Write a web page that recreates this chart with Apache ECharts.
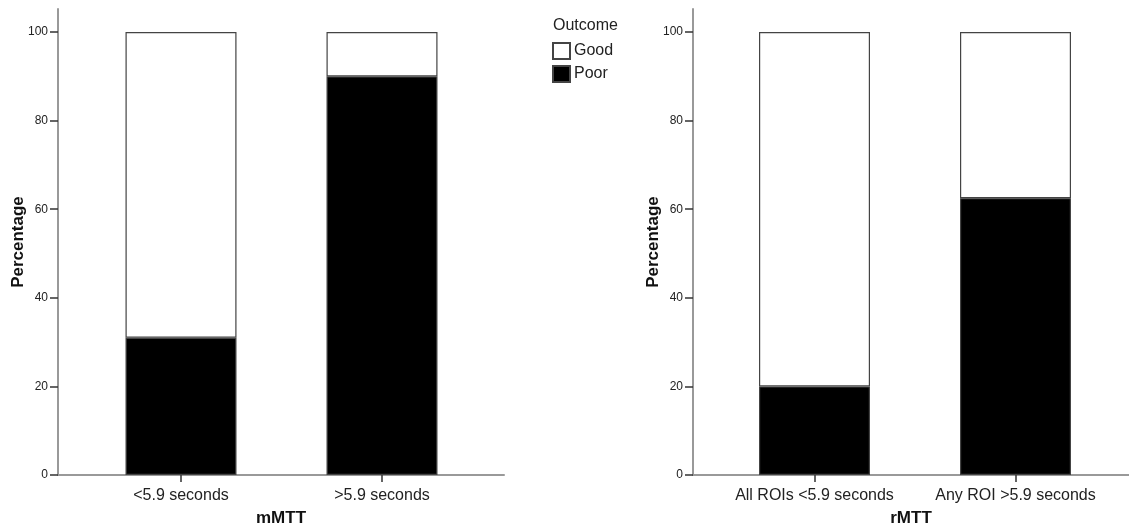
<!DOCTYPE html>
<html>
<head>
<meta charset="utf-8">
<script src="https://cdn.jsdelivr.net/npm/echarts@6/dist/echarts.min.js"></script>
<style>
  html, body { margin: 0; padding: 0; background: #fff; }
  #chart { width: 1129px; height: 526px; }
</style>
</head>
<body>
<div id="chart"></div>
<script>
// Outcome percentages by MTT group
const mCategories = ['<5.9 seconds', '>5.9 seconds'];
const mGood = [69, 10];
const mPoor = [31, 90];

const rCategories = ['All ROIs <5.9 seconds', 'Any ROI >5.9 seconds'];
const rGood = [80, 37.5];
const rPoor = [20, 62.5];

const yTicks = [0, 20, 40, 60, 80, 100];
const seriesNames = ['Poor', 'Good'];
const xTitles = ['mMTT', 'rMTT'];
const yTitle = 'Percentage';

const FONT = 'Liberation Sans, Arial, sans-serif';
const Y_MAX = 105.2;
const AXIS_GRAY = { color: '#999', width: 2 };
const TICK_DARK = { color: '#333', width: 1.5 };

// Each panel = an outer frame grid (axis lines, y ticks, titles)
// plus an inner grid holding the category bars.
const frames = [
  { left: 58, width: 446 },
  { left: 693, width: 436 }
];
const inners = [
  { left: 80.5, width: 402 },
  { left: 714, width: 402 }
];

function frameX(gi, title) {
  return {
    type: 'value', gridIndex: gi, min: 0, max: 1,
    name: title, nameLocation: 'middle', nameGap: 35,
    nameTextStyle: { fontFamily: FONT, fontSize: 17, fontWeight: 'bold', color: '#111' },
    splitLine: { show: false },
    axisLine: { show: true, lineStyle: AXIS_GRAY },
    axisTick: { show: false },
    axisLabel: { show: false }
  };
}

function frameY(gi) {
  return {
    type: 'value', gridIndex: gi, min: 0, max: Y_MAX,
    name: yTitle, nameLocation: 'middle', nameGap: 31, nameMoveOverlap: false,
    nameTextStyle: { fontFamily: FONT, fontSize: 17, fontWeight: 'bold', color: '#111' },
    splitLine: { show: false },
    axisLine: { show: true, lineStyle: AXIS_GRAY },
    axisTick: { show: true, customValues: yTicks, length: 8, lineStyle: TICK_DARK },
    axisLabel: { customValues: yTicks, margin: 10, fontFamily: FONT, fontSize: 12, color: '#222' }
  };
}

function innerX(gi, cats) {
  return {
    type: 'category', gridIndex: gi, data: cats,
    axisLine: { show: false },
    axisTick: { show: true, alignWithLabel: true, length: 7, lineStyle: TICK_DARK },
    axisLabel: { interval: 0, hideOverlap: false, margin: 13, fontFamily: FONT, fontSize: 16, color: '#222' }
  };
}

function innerY(gi) {
  return { type: 'value', gridIndex: gi, min: 0, max: Y_MAX, show: false };
}

function barSeries(gi, name, values, color) {
  return {
    type: 'bar', name: name, stack: 'outcome' + gi,
    xAxisIndex: gi, yAxisIndex: gi,
    barWidth: 111,
    itemStyle: { color: color, borderColor: '#444', borderWidth: 1.2 },
    emphasis: { disabled: true },
    data: values
  };
}

const gridBox = g => ({
  left: g.left, width: g.width, top: 9, height: 466,
  outerBoundsMode: 'none', containLabel: false
});

const chart = echarts.init(document.getElementById('chart'), null, { renderer: 'canvas' });
chart.setOption({
  animation: false,
  backgroundColor: '#fff',
  textStyle: { fontFamily: FONT },
  grid: [gridBox(frames[0]), gridBox(inners[0]), gridBox(frames[1]), gridBox(inners[1])],
  xAxis: [
    frameX(0, xTitles[0]), innerX(1, mCategories),
    frameX(2, xTitles[1]), innerX(3, rCategories)
  ],
  yAxis: [frameY(0), innerY(1), frameY(2), innerY(3)],
  title: {
    text: 'Outcome', left: 548, top: 13,
    textStyle: { fontFamily: FONT, fontSize: 16, fontWeight: 'normal', color: '#222' }
  },
  legend: {
    orient: 'vertical', left: 547, top: 37,
    data: ['Good', 'Poor'],
    icon: 'rect', itemWidth: 17, itemHeight: 16, itemGap: 5,
    selectedMode: false,
    textStyle: { fontFamily: FONT, fontSize: 16, color: '#222', padding: [0, 0, 0, -1] }
  },
  series: [
    barSeries(1, seriesNames[0], mPoor, '#000'),
    barSeries(1, seriesNames[1], mGood, '#fff'),
    barSeries(3, seriesNames[0], rPoor, '#000'),
    barSeries(3, seriesNames[1], rGood, '#fff')
  ]
});
</script>
</body>
</html>
